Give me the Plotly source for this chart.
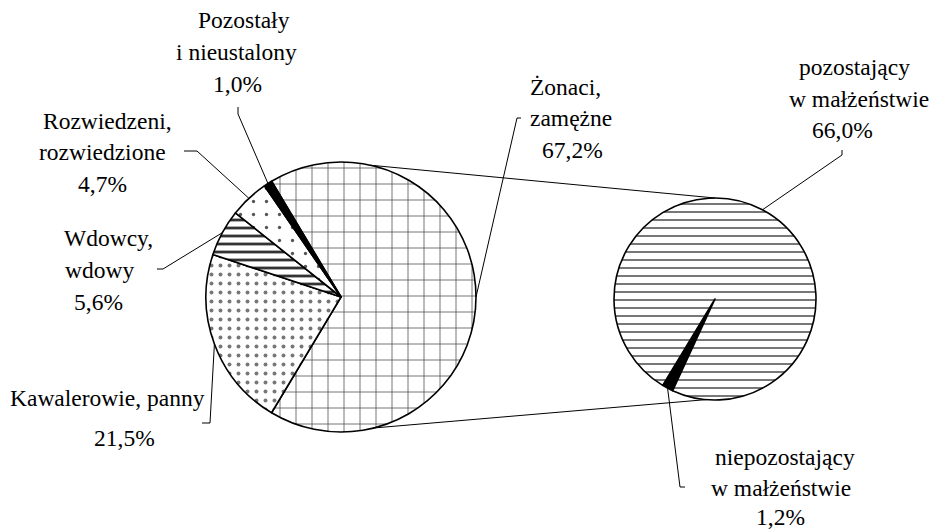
import math
import plotly.graph_objects as go

# ---------------- data ----------------
main_labels = ["Żonaci, zamężne", "Kawalerowie, panny", "Wdowcy, wdowy",
               "Rozwiedzeni, rozwiedzione", "Pozostały i nieustalony"]
main_values = [67.2, 21.5, 5.6, 4.7, 1.0]
main_label_lines = [["Żonaci,", "zamężne"], ["Kawalerowie, panny"], ["Wdowcy,", "wdowy"],
                    ["Rozwiedzeni,", "rozwiedzione"], ["Pozostały", "i nieustalony"]]

sub_labels = ["niepozostający w małżeństwie", "pozostający w małżeństwie"]
sub_values = [1.2, 66.0]
sub_label_lines = [["niepozostający", "w małżeństwie"], ["pozostający", "w małżeństwie"]]

# ---------------- layout / geometry (pixels) ----------------
W, H = 934, 529
FONT = "Liberation Serif"
FS = 23.5
main_c, main_r = (341, 297), 135
sub_c, sub_r = (715, 299), 101
main_rot = 90 - 360 * main_values[0] / sum(main_values) / 2
sub_mid = -152
sub_rot = sub_mid - 360 * sub_values[0] / sum(sub_values) / 2

# label line positions (center x, middle y) per label, last entry is the percentage
main_label_pos = [
    [(565, 87), (571, 118), (572, 150)],
    [(107, 398), (124, 438)],
    [(108, 238), (99, 270), (98, 302)],
    [(107, 121), (102, 152), (102, 184)],
    [(244, 20), (237, 52), (238, 84)],
]
main_leader = [
    [(521, 118), (517, 118)],
    [(202, 423), (210, 423)],
    [(157, 269), (163, 269)],
    [(184, 151), (197, 151)],
    [(238, 107), (238, 114)],
]
sub_label_pos = [
    [(785, 457), (781, 488), (780, 517)],
    [(854, 67), (859, 99), (842, 130)],
]
sub_leader = [
    [(685, 487), (680, 487)],
    [(842, 150), (842, 155)],
]
# connector angles (clockwise from 12 o'clock) on main pie and on second pie
conn_main = [12.5, 166]
conn_sub = [0, 185]


def px(x):
    return x / W


def py(y):
    return 1 - y / H


def edge(c, r, a):
    t = math.radians(a)
    return (c[0] + r * math.sin(t), c[1] - r * math.cos(t))


def mids(values, rot):
    tot = sum(values)
    out, cum = [], 0
    for v in values:
        out.append(rot + 360 * (cum + v / 2) / tot)
        cum += v
    return out


def pct(v):
    return f"{v:.1f}".replace(".", ",") + "%"


fig = go.Figure()

fig.add_trace(go.Pie(
    labels=main_labels, values=main_values, sort=False, direction="clockwise",
    rotation=main_rot, textinfo="none", showlegend=False,
    domain=dict(x=[px(main_c[0] - main_r), px(main_c[0] + main_r)],
                y=[py(main_c[1] + main_r), py(main_c[1] - main_r)]),
    marker=dict(
        colors=["white", "white", "white", "white", "black"],
        line=dict(color="black", width=1.6),
        pattern=dict(
            shape=["+", ".", "-", ".", ""],
            fgcolor=["#444444", "#777777", "#333333", "#555555", "black"],
            bgcolor=["white", "white", "white", "white", "black"],
            size=[16, 9, 8, 13, 8],
            solidity=[0.09, 0.15, 0.35, 0.05, 0.5],
        ),
    ),
))

fig.add_trace(go.Pie(
    labels=sub_labels, values=sub_values, sort=False, direction="clockwise",
    rotation=sub_rot, textinfo="none", showlegend=False,
    domain=dict(x=[px(sub_c[0] - sub_r), px(sub_c[0] + sub_r)],
                y=[py(sub_c[1] + sub_r), py(sub_c[1] - sub_r)]),
    marker=dict(
        colors=["black", "white"],
        line=dict(color="black", width=1.6),
        pattern=dict(
            shape=["", "-"],
            fgcolor=["black", "#555555"],
            bgcolor=["black", "white"],
            size=[8, 8],
            solidity=[0.5, 0.2],
        ),
    ),
))

shapes = []
annotations = []


def add_label(lines, vals, pos, leader, endpt):
    texts = lines + [pct(vals)]
    for t, (x, y) in zip(texts, pos):
        annotations.append(dict(text=t, x=px(x), y=py(y), xref="paper", yref="paper",
                                xanchor="center", yanchor="middle", showarrow=False,
                                font=dict(family=FONT, size=FS, color="black")))
    pts = leader + [endpt]
    path = "M " + " L ".join(f"{px(a)},{py(b)}" for a, b in pts)
    shapes.append(dict(type="path", path=path, xref="paper", yref="paper",
                       line=dict(color="black", width=1)))


for lines, v, pos, ld, a in zip(main_label_lines, main_values, main_label_pos,
                                main_leader, mids(main_values, main_rot)):
    add_label(lines, v, pos, ld, edge(main_c, main_r, a))

for lines, v, pos, ld, a in zip(sub_label_lines, sub_values, sub_label_pos,
                                sub_leader, mids(sub_values, sub_rot)):
    add_label(lines, v, pos, ld, edge(sub_c, sub_r, a))

for am, asub in zip(conn_main, conn_sub):
    p1 = edge(main_c, main_r, am)
    p2 = edge(sub_c, sub_r, asub)
    shapes.append(dict(type="line", xref="paper", yref="paper",
                       x0=px(p1[0]), y0=py(p1[1]), x1=px(p2[0]), y1=py(p2[1]),
                       line=dict(color="black", width=1)))

fig.update_layout(
    width=W, height=H, margin=dict(l=0, r=0, t=0, b=0),
    paper_bgcolor="white", plot_bgcolor="white",
    font=dict(family=FONT, size=FS, color="black"),
    shapes=shapes, annotations=annotations,
)

fig.write_html("out.html", config={"displayModeBar": False},
               post_script="document.body.style.margin='0';document.body.style.padding='0';")
